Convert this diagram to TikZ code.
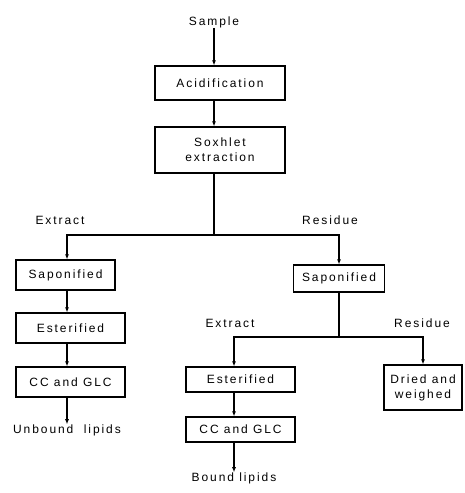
\documentclass[tikz,border=0pt]{standalone}
\usepackage{fontspec}
\setmainfont[LetterSpace=16]{Liberation Sans}
\usetikzlibrary{arrows.meta}

\tikzset{
  stage/.style={draw,line width=1.2pt,rectangle,align=center,inner sep=0pt},
  flow/.style={line width=1.2pt,-{Latex[length=5pt,width=4pt]}},
  tag/.style={inner sep=0pt}
}

\begin{document}
\begin{tikzpicture}[x=1pt,y=-1pt,font=\fontsize{12}{15}\selectfont]
        \useasboundingbox (0,0) rectangle (464,493);
        % main column
        \node[tag] (sample) at (214,22) {Sample};
        \node[stage,minimum width=130pt,minimum height=34pt] (acid) at (220,83) {Acidification};
        \node[stage,minimum width=130pt,minimum height=46pt] (soxh) at (220,150) {Soxhlet\\extraction};
        \coordinate (fork1) at (214,235);
        \coordinate (forkL) at (67,235);
        \node[tag] (extL) at (60,220) {Extract};
        \node[tag] (resL) at (330,220) {Residue};
        % unbound branch
        \node[stage,minimum width=99pt,minimum height=30pt] (sapL) at (65.5,275) {Saponified};
        \node[stage,minimum width=109pt,minimum height=30pt] (estL) at (70.5,328) {Esterified};
        \node[stage,minimum width=109pt,minimum height=30pt] (ccL) at (70.5,382) {CC and GLC};
        \node[tag] (unbound) at (67,430) {Unbound\ \ lipids};
        % bound branch
        \node[stage,minimum width=91pt,minimum height=27pt] (sapR) at (339,278.5) {Saponified};
        \coordinate (fork2) at (339,337);
        \coordinate (forkRL) at (234,337);
        \node[tag] (extR) at (230,323) {Extract};
        \node[tag] (resR) at (422,323) {Residue};
        \node[stage,minimum width=109pt,minimum height=25pt] (estR) at (240.5,379.5) {Esterified};
        \node[stage,minimum width=109pt,minimum height=25pt] (ccR) at (240.5,429.5) {CC and GLC};
        \node[tag] (bound) at (234,478) {Bound lipids};
        \node[stage,minimum width=78pt,minimum height=45pt] (dried) at (423,387.5) {Dried and\\weighed};

        \draw[flow] (sample) -- (sample |- acid.north);
        \draw[flow] (sample |- acid.south) -- (sample |- soxh.north);
        \draw[line width=1.2pt] (sample |- soxh.south) -- (fork1);
        \draw[flow] (fork1) -| (forkL |- sapL.north);
        \draw[flow] (fork1) -| (sapR.north);
        \draw[flow] (forkL |- sapL.south) -- (forkL |- estL.north);
        \draw[flow] (forkL |- estL.south) -- (forkL |- ccL.north);
        \draw[flow] (forkL |- ccL.south) -- (unbound);
        \draw[line width=1.2pt] (sapR.south) -- (fork2);
        \draw[flow] (fork2) -| (forkRL |- estR.north);
        \draw[flow] (fork2) -| (dried.north);
        \draw[flow] (forkRL |- estR.south) -- (forkRL |- ccR.north);
        \draw[flow] (forkRL |- ccR.south) -- (bound);
\end{tikzpicture}
\end{document}
